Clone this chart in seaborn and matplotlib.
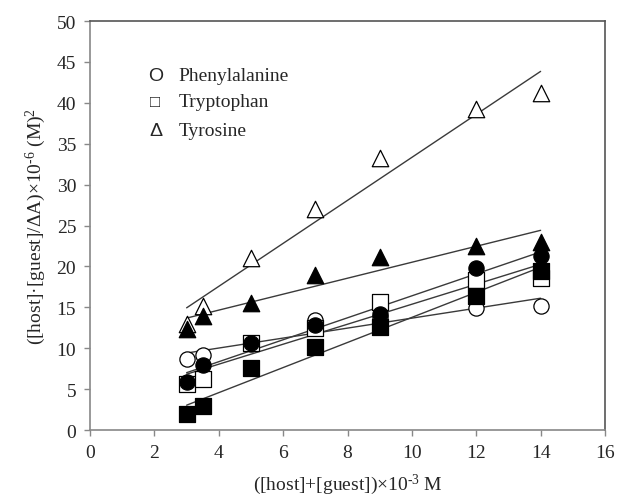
import matplotlib
matplotlib.use("Agg")
import matplotlib.pyplot as plt
import seaborn as sns
import numpy as np

# concentrations ([host]+[guest]) x 1e-3 M
conc = [3, 3.5, 5, 7, 9, 12, 14]

phe_open = [8.7, 9.2, 10.5, 13.4, 13.8, 14.9, 15.2]
phe_filled = [5.9, 8.0, 10.6, 12.9, 14.2, 19.8, 21.3]
trp_open = [5.6, 6.2, 10.7, 12.5, 15.6, 18.3, 18.6]
trp_filled = [2.0, 2.9, 7.6, 10.1, 12.6, 16.4, 19.5]
tyr_open = [13.0, 15.2, 21.0, 27.0, 33.3, 39.3, 41.2]
tyr_filled = [12.3, 14.0, 15.5, 19.0, 21.2, 22.5, 23.0]

legend_symbols = ["O", "\u25a1", "\u0394"]
legend_labels = ["Phenylalanine", "Tryptophan", "Tyrosine"]

sns.set_theme(style="white")
plt.rcParams["font.family"] = ["Liberation Serif", "DejaVu Serif"]
plt.rcParams["mathtext.fontset"] = "custom"
plt.rcParams["mathtext.rm"] = "Liberation Serif"
plt.rcParams["mathtext.it"] = "Liberation Serif:italic"

fig = plt.figure(figsize=(6.17, 5.02), dpi=100)
ax = fig.add_axes([0.146, 0.1414, 0.8345, 0.8146])

series = [
    (tyr_open, "^", "white", 140),
    (tyr_filled, "^", "black", 140),
    (phe_open, "o", "white", 120),
    (trp_open, "s", "white", 120),
    (trp_filled, "s", "black", 120),
    (phe_filled, "o", "black", 120),
]

for vals, mk, fc, sz in series:
    sns.regplot(x=np.array(conc), y=np.array(vals), ax=ax, ci=None, marker=mk,
                color="black",
                scatter_kws={"s": sz, "facecolors": fc, "edgecolors": "black",
                             "linewidths": 0.9, "zorder": 3, "alpha": 1},
                line_kws={"color": "#3a3a3a", "linewidth": 1.0, "zorder": 2})

ax.set_xlim(0, 16)
ax.set_ylim(0, 50)
ax.set_xticks(range(0, 17, 2))
ax.set_yticks(range(0, 51, 5))
ax.tick_params(axis="both", direction="out", length=4, width=1, color="#888888",
               labelsize=14, pad=6, bottom=True, left=True)
for s in ax.spines.values():
    s.set_color("#888888")
    s.set_linewidth(1.2)
ax.spines["top"].set_color("#555555")
ax.spines["right"].set_color("#555555")

ax.set_xlabel("([host]+[guest])\u00d710$^{\u2010 3}$ M".replace("\u2010 ", "\u2010"),
              fontsize=14, labelpad=8)
ax.set_ylabel("([host]\u00b7[guest]/\u0394A)\u00d710$^{\u20106}$ (M)$^{2}$",
              fontsize=14, labelpad=6)

ys = [0.866, 0.804, 0.733]
sym_sizes = [14, 12, 14]
for sym, lab, yy, fs in zip(legend_symbols, legend_labels, ys, sym_sizes):
    ax.text(0.127, yy, sym, transform=ax.transAxes, fontsize=fs,
            family=["Liberation Sans", "DejaVu Sans"], ha="center", va="center")
    ax.text(0.172, yy, lab, transform=ax.transAxes, fontsize=14,
            ha="left", va="center")

fig.savefig("out.png", dpi=100)
